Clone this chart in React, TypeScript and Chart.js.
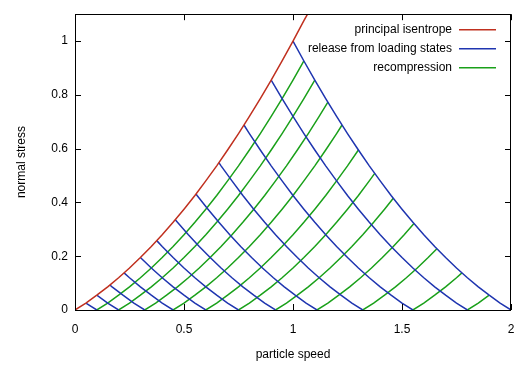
import React, { useEffect, useRef } from "react";
import { Chart, registerables } from "chart.js";

Chart.register(...registerables);

// Principal isentrope (particle speed, normal stress)
const isentropeSpeed = [0, 0.05, 0.1, 0.15, 0.2, 0.25, 0.3, 0.35, 0.4, 0.45, 0.5, 0.55, 0.6, 0.65, 0.7, 0.75, 0.8, 0.85, 0.9, 0.95, 1.0, 1.05, 1.07];
const isentropeStress = [0, 0.026, 0.055, 0.086, 0.12, 0.156, 0.195, 0.236, 0.28, 0.326, 0.375, 0.426, 0.48, 0.536, 0.595, 0.656, 0.72, 0.786, 0.855, 0.926, 1.0, 1.076, 1.105];

// Loading states on the isentrope from which release curves start
const releaseStartSpeed = [0.05, 0.1, 0.16, 0.225, 0.3, 0.375, 0.46, 0.555, 0.66, 0.775, 0.9, 1.0];
// Zero-stress states from which recompression curves start
const recompressionStartSpeed = [0.1, 0.2, 0.32, 0.45, 0.6, 0.75, 0.92, 1.11, 1.32, 1.55, 1.8];

const xTicks = [0, 0.5, 1, 1.5, 2];
const yTicks = [0, 0.2, 0.4, 0.6, 0.8, 1];

const legendLabels = ["principal isentrope", "release from loading states", "recompression"];
const RED = "#c0301f";
const BLUE = "#1f35b0";
const GREEN = "#1aa01a";
const FONT = "'Liberation Sans', Arial, Helvetica, sans-serif";

function stressAt(u: number): number {
  for (let i = 1; i < isentropeSpeed.length; i++) {
    if (u <= isentropeSpeed[i]) {
      const u0 = isentropeSpeed[i - 1], u1 = isentropeSpeed[i];
      const s0 = isentropeStress[i - 1], s1 = isentropeStress[i];
      return s0 + ((u - u0) / (u1 - u0)) * (s1 - s0);
    }
  }
  return isentropeStress[isentropeStress.length - 1];
}

// isentrope samples from 0 up to s (inclusive)
function isentropeUpTo(s: number) {
  const pts: { u: number; p: number }[] = [];
  for (let i = 0; i < isentropeSpeed.length; i++) {
    if (isentropeSpeed[i] < s - 1e-9) pts.push({ u: isentropeSpeed[i], p: isentropeStress[i] });
  }
  pts.push({ u: s, p: stressAt(s) });
  return pts;
}

function buildDatasets() {
  const ds: any[] = [];
  ds.push({
    label: legendLabels[0],
    data: isentropeSpeed.map((u, i) => ({ x: u, y: isentropeStress[i] })),
    borderColor: RED,
  });
  releaseStartSpeed.forEach((a) => {
    const pts = isentropeUpTo(a).map((q) => ({ x: 2 * a - q.u, y: q.p }));
    ds.push({ label: legendLabels[1], data: pts.reverse(), borderColor: BLUE });
  });
  const apex = releaseStartSpeed[releaseStartSpeed.length - 1];
  recompressionStartSpeed.forEach((u0) => {
    const sEnd = (2 * apex - u0) / 2;
    const pts = isentropeUpTo(sEnd).map((q) => ({ x: u0 + q.u, y: q.p }));
    ds.push({ label: legendLabels[2], data: pts, borderColor: GREEN });
  });
  return ds.map((d) => ({
    ...d,
    borderWidth: 1.5,
    pointRadius: 0,
    tension: 0,
    fill: false,
  }));
}

const framePlugin = {
  id: "frame",
  afterDraw(chart: any) {
    const { ctx, chartArea } = chart;
    const { left, right, top, bottom } = chartArea;
    const xs = chart.scales.x;
    const ys = chart.scales.y;
    ctx.save();
    ctx.strokeStyle = "#000";
    ctx.lineWidth = 1;
    ctx.beginPath();
    const tl = 6;
    xTicks.forEach((v) => {
      const px = Math.round(xs.getPixelForValue(v)) + 0.5;
      ctx.moveTo(px, bottom);
      ctx.lineTo(px, bottom - tl);
      ctx.moveTo(px, top);
      ctx.lineTo(px, top + tl);
    });
    yTicks.forEach((v) => {
      const py = Math.round(ys.getPixelForValue(v)) + 0.5;
      ctx.moveTo(left, py);
      ctx.lineTo(left + tl, py);
      ctx.moveTo(right, py);
      ctx.lineTo(right - tl, py);
    });
    ctx.stroke();
    ctx.strokeRect(Math.round(left) + 0.5, Math.round(top) + 0.5, Math.round(right - left) - 1, Math.round(bottom - top));

    // legend
    const colors = [RED, BLUE, GREEN];
    ctx.font = `12px ${FONT}`;
    ctx.textAlign = "right";
    ctx.textBaseline = "middle";
    legendLabels.forEach((t, i) => {
      const y = top + 15.5 + i * 19;
      ctx.fillStyle = "#000";
      ctx.fillText(t, right - 59, y);
      ctx.strokeStyle = colors[i];
      ctx.lineWidth = 1.5;
      ctx.beginPath();
      ctx.moveTo(right - 52, y);
      ctx.lineTo(right - 15, y);
      ctx.stroke();
    });
    ctx.restore();
  },
};

export default function App() {
  const ref = useRef<HTMLCanvasElement>(null);
  useEffect(() => {
    if (!ref.current) return;
    const chart = new Chart(ref.current, {
      type: "line",
      data: { datasets: buildDatasets() },
      options: {
        animation: false,
        responsive: true,
        maintainAspectRatio: false,
        layout: { padding: { top: 14, right: 18, left: 0, bottom: 0 } },
        plugins: { legend: { display: false }, tooltip: { enabled: false } },
        scales: {
          x: {
            type: "linear",
            min: 0,
            max: 2,
            grid: { display: false, drawTicks: false },
            border: { display: false },
            afterBuildTicks: (s: any) => {
              s.ticks = xTicks.map((v) => ({ value: v }));
            },
            afterFit: (s: any) => {
              s.height = 61;
            },
            ticks: {
              color: "#000",
              font: { family: FONT, size: 12 },
              padding: 12,
              maxRotation: 0,
              callback: (v: any) => String(v),
            },
            title: {
              display: true,
              text: "particle speed",
              color: "#000",
              font: { family: FONT, size: 12 },
              padding: { top: 0, bottom: 9 },
            },
          },
          y: {
            type: "linear",
            min: 0,
            max: 1.1,
            grid: { display: false, drawTicks: false },
            border: { display: false },
            afterBuildTicks: (s: any) => {
              s.ticks = yTicks.map((v) => ({ value: v }));
            },
            afterFit: (s: any) => {
              s.width = 75;
            },
            ticks: {
              color: "#000",
              font: { family: FONT, size: 12 },
              padding: 7,
              callback: (v: any) => String(v),
            },
            title: {
              display: true,
              text: "normal stress",
              color: "#000",
              font: { family: FONT, size: 12 },
              padding: { top: 14, bottom: 0 },
            },
          },
        },
      },
      plugins: [framePlugin],
    });
    return () => chart.destroy();
  }, []);
  return (
    <div style={{ position: "fixed", left: 0, top: 0, width: 529, height: 371, background: "#fff" }}>
      <canvas ref={ref} />
    </div>
  );
}
